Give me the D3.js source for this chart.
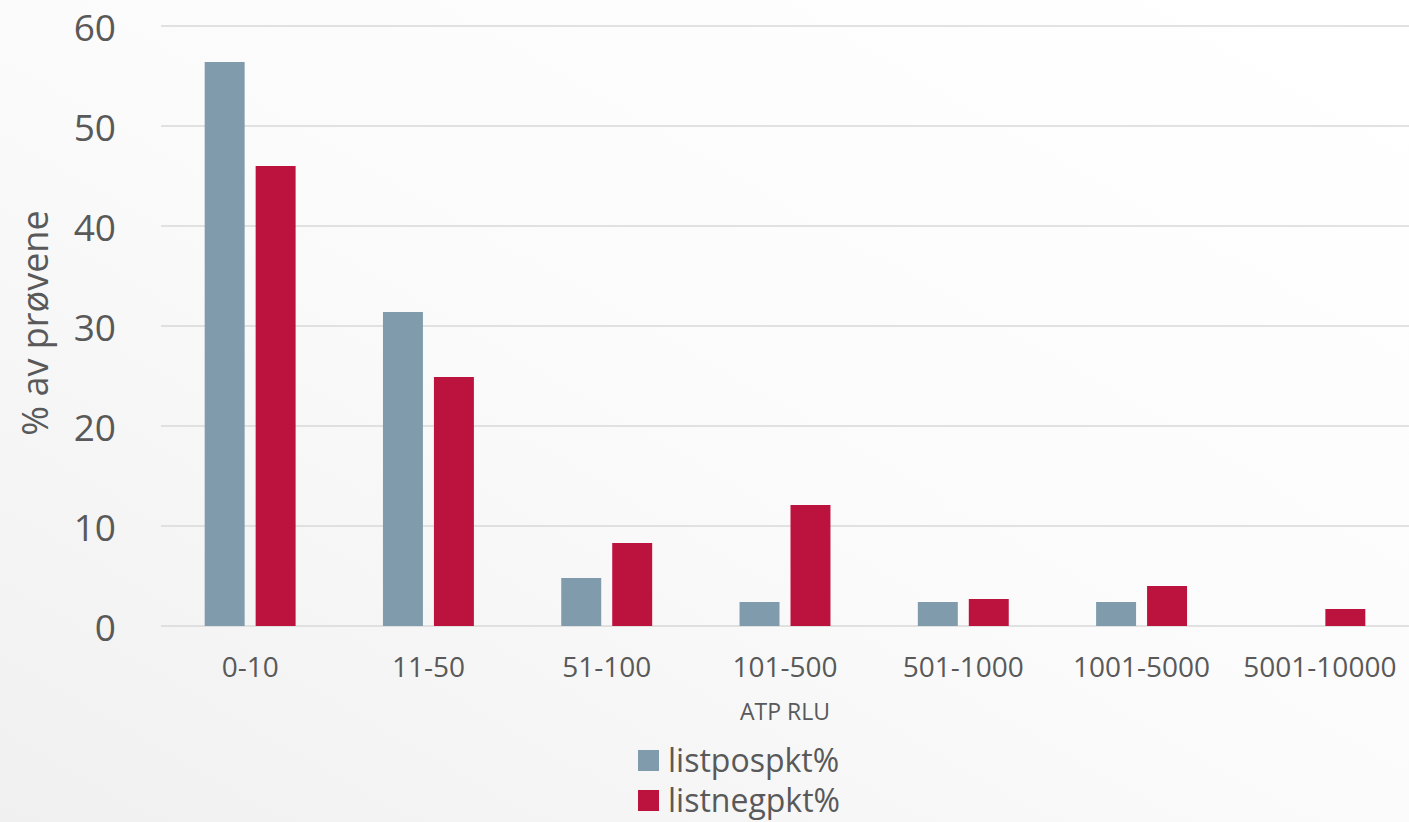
<!DOCTYPE html>
<html>
<head>
<meta charset="utf-8">
<script src="https://cdn.jsdelivr.net/npm/d3@7"></script>
<style>
  body { margin: 0; padding: 0; background: #fff; }
  svg { display: block; font-family: "Open Sans", sans-serif; }
</style>
</head>
<body>
<div id="chart"></div>
<script>
// data
const categories = ["0-10", "11-50", "51-100", "101-500", "501-1000", "1001-5000", "5001-10000"];
const seriesNames = ["listpospkt%", "listnegpkt%"];
const listpos = [56.4, 31.4, 4.8, 2.4, 2.4, 2.4, 0];
const listneg = [46.0, 24.9, 8.3, 12.1, 2.7, 4.0, 1.7];
const yTicks = [0, 10, 20, 30, 40, 50, 60];
const colors = ["#7f9bac", "#bc133e"];

const width = 1409;
const height = 822;
const plot = {left: 161, right: 1409, top: 26, bottom: 626};

const svg = d3.select("#chart")
    .append("svg")
    .attr("width", width)
    .attr("height", height);

// background gradient
const defs = svg.append("defs");
const grad = defs.append("linearGradient")
    .attr("id", "bg")
    .attr("x1", "1").attr("y1", "0")
    .attr("x2", "0").attr("y2", "1");
grad.append("stop").attr("offset", "0").attr("stop-color", "#ffffff");
grad.append("stop").attr("offset", "0.5").attr("stop-color", "#fbfbfb");
grad.append("stop").attr("offset", "1").attr("stop-color", "#f0f0f0");

svg.append("rect")
    .attr("width", width)
    .attr("height", height)
    .attr("fill", "url(#bg)");

//----------------------------SCALES----------------------------//
const xScale = d3.scaleBand()
    .domain(categories)
    .range([plot.left, plot.right])
    .paddingInner(0.49)
    .paddingOuter(0.245);

const xSub = d3.scaleBand()
    .domain(seriesNames)
    .range([0, xScale.bandwidth()])
    .paddingInner(0.216);

const yScale = d3.scaleLinear()
    .domain([0, 60])
    .range([plot.bottom, plot.top]);

//-----------------------------GRID-----------------------------//
svg.append("g")
    .selectAll("line")
    .data(yTicks)
    .enter()
    .append("line")
    .attr("x1", plot.left)
    .attr("x2", plot.right)
    .attr("y1", d => yScale(d))
    .attr("y2", d => yScale(d))
    .attr("stroke", "#d9d9d9")
    .attr("stroke-width", 1.5);

//-----------------------------AXES-----------------------------//
const yaxis = d3.axisLeft(yScale)
    .tickValues(yTicks)
    .tickSize(0)
    .tickPadding(0);

svg.append("g")
    .attr("transform", "translate(116,0)")
    .call(yaxis)
    .call(g => g.select(".domain").remove())
    .selectAll("text")
        .attr("dy", "0.39em")
        .attr("fill", "#595959")
        .style("font-size", "37px")
        .style("font-family", "Open Sans");

const xaxis = d3.axisBottom(xScale)
    .tickSize(0)
    .tickPadding(0);

svg.append("g")
    .call(xaxis)
    .call(g => g.select(".domain").remove())
    .selectAll("text")
        .attr("y", 677)
        .attr("dy", null)
        .attr("fill", "#595959")
        .style("font-size", "28px")
        .style("font-family", "Open Sans");

// axis titles
svg.append("text")
    .attr("transform", "translate(48,323) rotate(-90)")
    .attr("text-anchor", "middle")
    .attr("fill", "#595959")
    .style("font-size", "36px")
    .text("% av prøvene");

svg.append("text")
    .attr("x", (plot.left + plot.right) / 2)
    .attr("y", 720)
    .attr("text-anchor", "middle")
    .attr("fill", "#595959")
    .style("font-size", "23px")
    .text("ATP RLU");

//----------------------------BARS------------------------------//
const slices = seriesNames.map((id, i) => ({
    id: id,
    color: colors[i],
    values: categories.map((c, j) => ({cat: c, value: (i === 0 ? listpos : listneg)[j]}))
}));

const groups = svg.selectAll(".series")
    .data(slices)
    .enter()
    .append("g")
    .attr("class", "series")
    .attr("fill", d => d.color);

groups.selectAll("rect")
    .data(d => d.values.map(v => ({...v, id: d.id})))
    .enter()
    .append("rect")
    .attr("x", d => xScale(d.cat) + xSub(d.id))
    .attr("width", xSub.bandwidth())
    .attr("y", d => yScale(d.value))
    .attr("height", d => yScale(0) - yScale(d.value));

//----------------------------LEGEND----------------------------//
const legend = svg.append("g")
    .attr("transform", "translate(638,750)");

const items = legend.selectAll("g")
    .data(slices)
    .enter()
    .append("g")
    .attr("transform", (d, i) => "translate(0," + i * 40 + ")");

items.append("rect")
    .attr("width", 21)
    .attr("height", 21)
    .attr("fill", d => d.color);

items.append("text")
    .attr("x", 30)
    .attr("y", 10.5)
    .attr("dy", "0.36em")
    .attr("fill", "#595959")
    .style("font-size", "32px")
    .text(d => d.id);
</script>
</body>
</html>
